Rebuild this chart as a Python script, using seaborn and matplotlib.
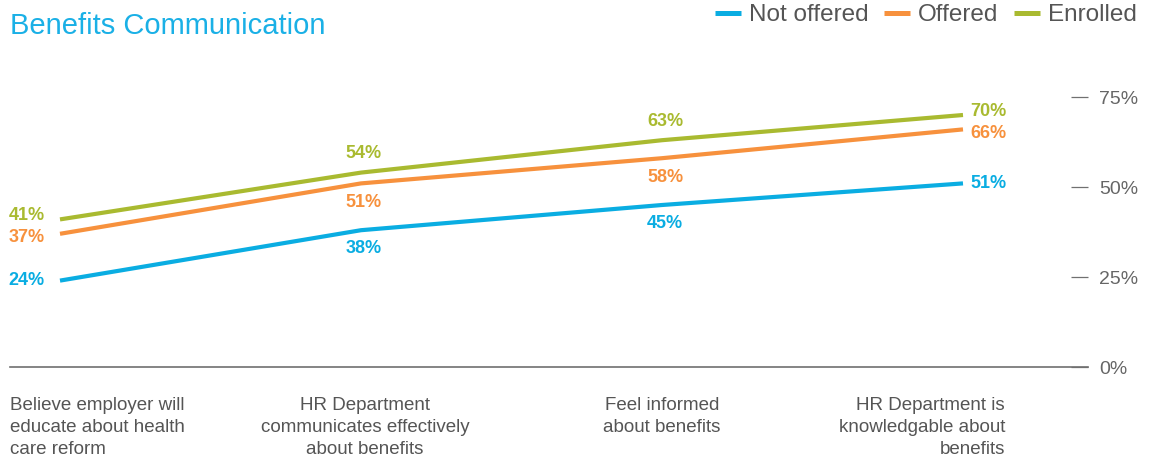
import numpy as np
import pandas as pd
import matplotlib
matplotlib.use("Agg")
import matplotlib.pyplot as plt
import seaborn as sns
from matplotlib.lines import Line2D
from matplotlib.transforms import blended_transform_factory

# ---- data -------------------------------------------------------------
title = "Benefits Communication"
categories = [
    "Believe employer will\neducate about health\ncare reform",
    "HR Department\ncommunicates effectively\nabout benefits",
    "Feel informed\nabout benefits",
    "HR Department is\nknowledgable about\nbenefits",
]
series_names = ["Not offered", "Offered", "Enrolled"]
not_offered = [24, 38, 45, 51]
offered = [37, 51, 58, 66]
enrolled = [41, 54, 63, 70]
y_ticks = [0, 25, 50, 75]
y_tick_labels = ["0%", "25%", "50%", "75%"]

# ---- styling ----------------------------------------------------------
colors = {"Not offered": "#0AADE2", "Offered": "#F7913D", "Enrolled": "#A9BA30"}
title_color = "#1AB0E6"
text_gray = "#555555"
axis_gray = "#707070"

sns.set_style("white")
plt.rcParams["font.family"] = ["Liberation Sans", "DejaVu Sans"]

values = {"Not offered": not_offered, "Offered": offered, "Enrolled": enrolled}
df = pd.DataFrame({
    "pos": np.tile(np.arange(len(categories)), len(series_names)),
    "value": np.concatenate([values[s] for s in series_names]),
    "series": np.repeat(series_names, len(categories)),
})

W, H = 1154, 462
fig = plt.figure(figsize=(W / 100, H / 100), dpi=100)
ax = fig.add_axes([10 / W, 95 / H, 1078 / W, 270 / H])

sns.lineplot(data=df, x="pos", y="value", hue="series", hue_order=series_names,
             palette=colors, linewidth=3, legend=False, sort=False, ax=ax,
             solid_capstyle="butt")

ax.set_xlim(-50 / 301, 3 + 125 / 301)
ax.set_ylim(0, 75)
ax.set_xlabel("")
ax.set_ylabel("")

for side in ("top", "left", "right"):
    ax.spines[side].set_visible(False)
ax.spines["bottom"].set_color(axis_gray)
ax.spines["bottom"].set_linewidth(1.2)

ax.set_xticks([])
ax.yaxis.tick_right()
ax.set_yticks(y_ticks)
ax.set_yticklabels(y_tick_labels)
ax.tick_params(axis="y", direction="in", length=12, width=0.9, color=axis_gray,
               pad=8, labelsize=14, labelcolor="#666666")

# category labels under the baseline
trans = blended_transform_factory(ax.transData, ax.transAxes)
cat_align = ["left", "center", "center", "right"]
cat_dx = [-50, 4, 0, 42]
for i, (lab, ha, dx) in enumerate(zip(categories, cat_align, cat_dx)):
    ax.annotate(lab, xy=(i, 0), xycoords=trans, xytext=(dx, -30),
                textcoords="offset pixels", ha=ha, va="top", fontsize=13.5,
                color=text_gray, linespacing=1.38, annotation_clip=False)

# value labels
middle_dy = {"Not offered": -18, "Offered": -19, "Enrolled": 19}
end_dy = {"Not offered": 0, "Offered": -4, "Enrolled": 4}
for s in series_names:
    for i, v in enumerate(values[s]):
        if i == 0:
            ha, dx, dy = "right", -15, end_dy[s]
        elif i == len(categories) - 1:
            ha, dx, dy = "left", 7, end_dy[s]
        else:
            ha, dx, dy = "center", 3, middle_dy[s]
        ax.annotate(f"{v}%", xy=(i, v), xytext=(dx, dy), textcoords="offset pixels",
                    ha=ha, va="center", fontsize=13, fontweight="bold",
                    color=colors[s], annotation_clip=False)

# title and legend
fig.text(10 / W, 1 - 12 / H, title, ha="left", va="top", fontsize=21,
         color=title_color)

handles = [Line2D([], [], color=colors[s], lw=3.6, solid_capstyle="butt")
           for s in series_names]
fig.legend(handles, series_names, loc="upper right",
           bbox_to_anchor=(1137 / W, 1 - 4 / H), frameon=False, ncol=3,
           fontsize=17.5, handlelength=1.06, handletextpad=0.33,
           columnspacing=0.65, borderpad=0, borderaxespad=0,
           labelcolor="#555555")

fig.savefig("out.png", dpi=100)
